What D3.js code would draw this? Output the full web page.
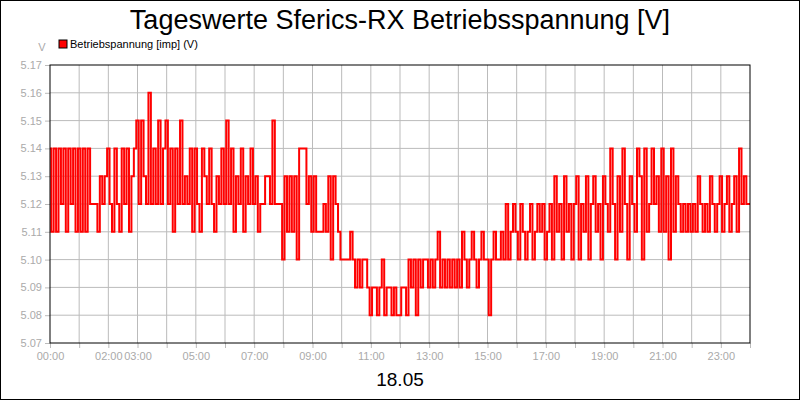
<!DOCTYPE html>
<html>
<head>
<meta charset="utf-8">
<script src="https://cdn.jsdelivr.net/npm/d3@7"></script>
<style>body{margin:0;background:#fff}</style>
</head>
<body>
<script>
// Werte in hundertstel Volt ueber 5.00, 12 Werte pro Stunde
var hourValues = [
  [14,11,14,11,14,12,14,11,14,12,14,11],
  [14,11,14,11,14,12,12,12,11,13,12,13],
  [14,12,11,14,12,11,14,12,14,11,13,14],
  [15,12,15,13,12,16,12,14,12,15,12,14],
  [15,12,14,11,14,12,15,12,13,12,14,11],
  [14,12,11,14,13,12,14,12,11,13,12,14],
  [12,15,12,14,11,13,12,14,11,13,12,14],
  [12,13,11,12,12,13,13,12,15,12,12,12],
  [10,13,11,13,11,13,10,14,14,14,12,13],
  [11,13,11,11,11,12,11,13,10,13,12,11],
  [10,10,10,10,11,10,9,10,9,10,10,9],
  [8,9,9,8,9,10,8,9,9,8,9,8],
  [8,9,9,8,10,9,10,8,10,9,10,10],
  [9,10,9,10,11,9,10,9,10,9,10,9],
  [10,9,11,10,9,10,11,10,9,10,11,10],
  [10,8,10,11,10,10,11,10,12,10,11,12],
  [11,10,12,11,10,11,12,10,11,12,11,12],
  [10,11,12,10,13,11,12,10,13,11,12,10],
  [12,13,10,12,11,13,10,12,13,11,12,10],
  [13,12,11,14,12,10,13,11,14,12,10,13],
  [12,11,14,13,10,14,11,12,14,12,13,11],
  [14,11,13,10,14,11,13,12,11,12,11,12],
  [11,12,11,13,12,11,12,11,13,12,11,12],
  [13,11,12,13,11,12,13,11,14,12,13,12]
];
var yTicks = [5.07,5.08,5.09,5.10,5.11,5.12,5.13,5.14,5.15,5.16,5.17];
var xLabelHours = [0,2,3,5,7,9,11,13,15,17,19,21,23];

var data = [];
hourValues.forEach(function(h, i) {
  h.forEach(function(v, j) { data.push({t: i + j / 12, v: 5 + v / 100}); });
});
data.push({t: 24, v: 5.12});

var width = 800, height = 400;
var svg = d3.select('body').append('svg').attr('width', width).attr('height', height)
  .style('font-family', 'Liberation Sans, Arial, sans-serif');

svg.append('rect').attr('x', 0.5).attr('y', 0.5).attr('width', width - 1).attr('height', height - 1)
  .attr('fill', '#fff').attr('stroke', '#000');

var x = d3.scaleLinear().domain([0, 24]).range([50, 750]);
var y = d3.scaleLinear().domain([5.07, 5.17]).range([343, 65]);

// Gitter
svg.selectAll('.gx').data(d3.range(1, 24)).enter().append('line')
  .attr('x1', function(d) { return x(d); }).attr('x2', function(d) { return x(d); })
  .attr('y1', 65).attr('y2', 343).attr('stroke', '#bbb');
svg.selectAll('.gy').data(yTicks.slice(1, -1)).enter().append('line')
  .attr('x1', 50).attr('x2', 750)
  .attr('y1', function(d) { return y(d); }).attr('y2', function(d) { return y(d); })
  .attr('stroke', '#bbb');

// Achsen
var xAxis = d3.axisBottom(x).tickValues(d3.range(0, 25)).tickSize(5).tickPadding(4)
  .tickFormat(function(d) { return xLabelHours.indexOf(d) >= 0 ? d3.format('02')(d) + ':00' : ''; });
var gx = svg.append('g').attr('transform', 'translate(0,343)').call(xAxis);
var yAxis = d3.axisLeft(y).tickValues(yTicks).tickSize(5).tickPadding(3).tickFormat(d3.format('.2f'));
var gy = svg.append('g').attr('transform', 'translate(50,0)').call(yAxis);
[gx, gy].forEach(function(g) {
  g.select('.domain').remove();
  g.selectAll('line').attr('stroke', '#bbb');
  g.selectAll('text').attr('fill', '#aaa').style('font-size', '11px');
});

var line = d3.line().x(function(d) { return x(d.t); }).y(function(d) { return y(d.v); })
  .curve(d3.curveStep);
svg.append('path').attr('fill', 'none').attr('stroke', '#f00').attr('stroke-width', 2)
  .attr('d', line(data));

svg.append('rect').attr('x', 50).attr('y', 65).attr('width', 700).attr('height', 278)
  .attr('fill', 'none').attr('stroke', '#000');

// Texte
svg.append('text').attr('x', 400).attr('y', 29).attr('text-anchor', 'middle')
  .style('font-size', '27px').text('Tageswerte Sferics-RX Betriebsspannung [V]');
svg.append('text').attr('x', 400).attr('y', 386).attr('text-anchor', 'middle')
  .style('font-size', '19px').text('18.05');
svg.append('text').attr('x', 42).attr('y', 51).attr('text-anchor', 'middle')
  .attr('fill', '#aaa').style('font-size', '11px').text('V');
svg.append('rect').attr('x', 59).attr('y', 40).attr('width', 8).attr('height', 8)
  .attr('fill', '#f00').attr('stroke', '#000');
svg.append('text').attr('x', 70).attr('y', 48).style('font-size', '11px')
  .text('Betriebspannung [imp] (V)');
</script>
</body>
</html>
